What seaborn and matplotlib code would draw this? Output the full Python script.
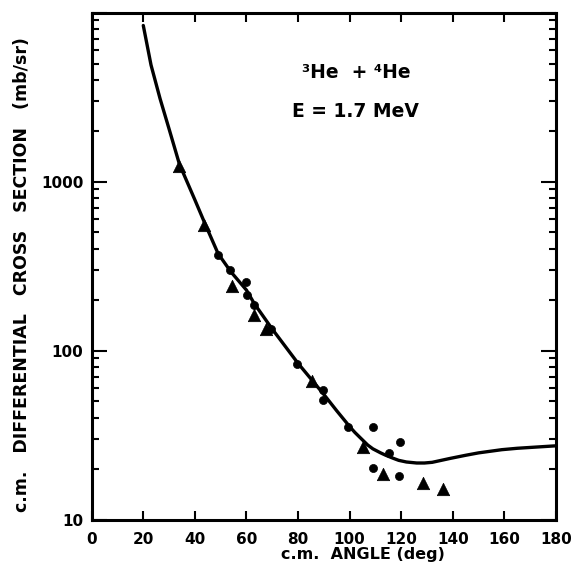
"""3He + 4He elastic scattering cross section at 1.7 MeV, recreated with seaborn."""

import matplotlib
matplotlib.use("Agg")
import matplotlib.pyplot as plt
import seaborn as sns

# values
curve_angle = [20, 23, 26.5, 30, 34, 40, 44, 49, 54, 60, 63, 70, 80, 90, 95, 100, 102,
               104, 107, 109, 112, 114, 117, 119, 122, 126, 129, 132, 139, 145, 150,
               159, 165, 170, 175, 180]
curve_sigma = [8400, 4900, 3100, 2050, 1270, 780, 560, 375, 292, 228, 190, 134, 84, 55, 44,
               35.5, 32.8, 30.6, 27.6, 26.2, 24.8, 24.0, 23.0, 22.4, 21.9, 21.6, 21.6,
               21.8, 23.0, 24.0, 24.8, 25.9, 26.4, 26.7, 27.0, 27.3]

tri_angle = [33.8, 43.5, 54.3, 62.9, 67.6, 85.3, 105.0, 113.0, 128.5, 136.3]
tri_sigma = [1230, 551, 241, 162, 135, 65.8, 27.0, 18.5, 16.4, 15.1]

dot_angle = [48.8, 53.6, 59.7, 60.1, 62.9, 69.4, 79.5, 89.5, 89.8, 99.5,
             109.1, 119.5, 115.3, 109.1, 119.2]
dot_sigma = [367, 298, 255, 213, 185, 134, 83.4, 58.6, 51.2, 35.1,
             35.3, 28.9, 24.7, 20.1, 18.2]

x_ticks = list(range(0, 181, 20))
y_ticks = [10, 100, 1000, 10000]
y_tick_labels = ["10", "100", "1000", ""]

sns.set_theme(style="ticks")
plt.rcParams["font.family"] = ["DejaVu Sans"]
plt.rcParams["font.weight"] = "bold"
plt.rcParams["text.color"] = "black"
plt.rcParams["axes.labelcolor"] = "black"

W, H = 574, 567
fig = plt.figure(figsize=(W / 100, H / 100), dpi=100)
left, right, top, bottom = 91.7, 556, 12.7, 519.5
ax = fig.add_axes([left / W, 1 - bottom / H, (right - left) / W, (bottom - top) / H])

sns.lineplot(x=curve_angle, y=curve_sigma, color="black", lw=2.4, ax=ax)
sns.scatterplot(x=tri_angle, y=tri_sigma, marker="^", s=80, color="black",
                edgecolor="black", linewidth=0.5, ax=ax, zorder=3)
sns.scatterplot(x=dot_angle, y=dot_sigma, marker="o", s=34, color="black",
                edgecolor="black", linewidth=0.5, ax=ax, zorder=3)

ax.set_yscale("log")
ax.set_xlim(0, 180)
ax.set_ylim(10, 10000)
ax.set_xticks(x_ticks)
ax.set_xticklabels([str(t) for t in x_ticks])
ax.set_yticks(y_ticks)
ax.set_yticklabels(y_tick_labels)

for sp in ax.spines.values():
    sp.set_linewidth(2.2)
    sp.set_color("black")

ax.tick_params(which="both", direction="in", top=True, right=True, color="black",
               width=1.5, labelsize=11, labelcolor="black")
ax.tick_params(axis="y", which="major", length=11, pad=6)
ax.tick_params(axis="y", which="minor", length=5)
ax.tick_params(axis="x", which="major", length=6.5, pad=9)
ax.tick_params(axis="x", which="minor", length=0)

ax.set_xlabel("c.m.  ANGLE (deg)", fontsize=11.5, fontweight="bold", va="center")
ax.xaxis.set_label_coords((363 - left) / (right - left), (bottom - 554) / (bottom - top))
ax.set_ylabel("c.m.   DIFFERENTIAL   CROSS   SECTION   (mb/sr)",
              fontsize=12.5, fontweight="bold", va="center")
ax.yaxis.set_label_coords((22 - left) / (right - left), (bottom - 275) / (bottom - top))

ax.text((356 - left) / (right - left), (bottom - 72) / (bottom - top), "³He  + ⁴He",
        transform=ax.transAxes, ha="center", va="center", fontsize=13.5, fontweight="bold")
ax.text((355 - left) / (right - left), (bottom - 111) / (bottom - top), "E = 1.7 MeV",
        transform=ax.transAxes, ha="center", va="center", fontsize=13.5, fontweight="bold")

fig.savefig("out.png", dpi=100, facecolor="white")
plt.close(fig)
